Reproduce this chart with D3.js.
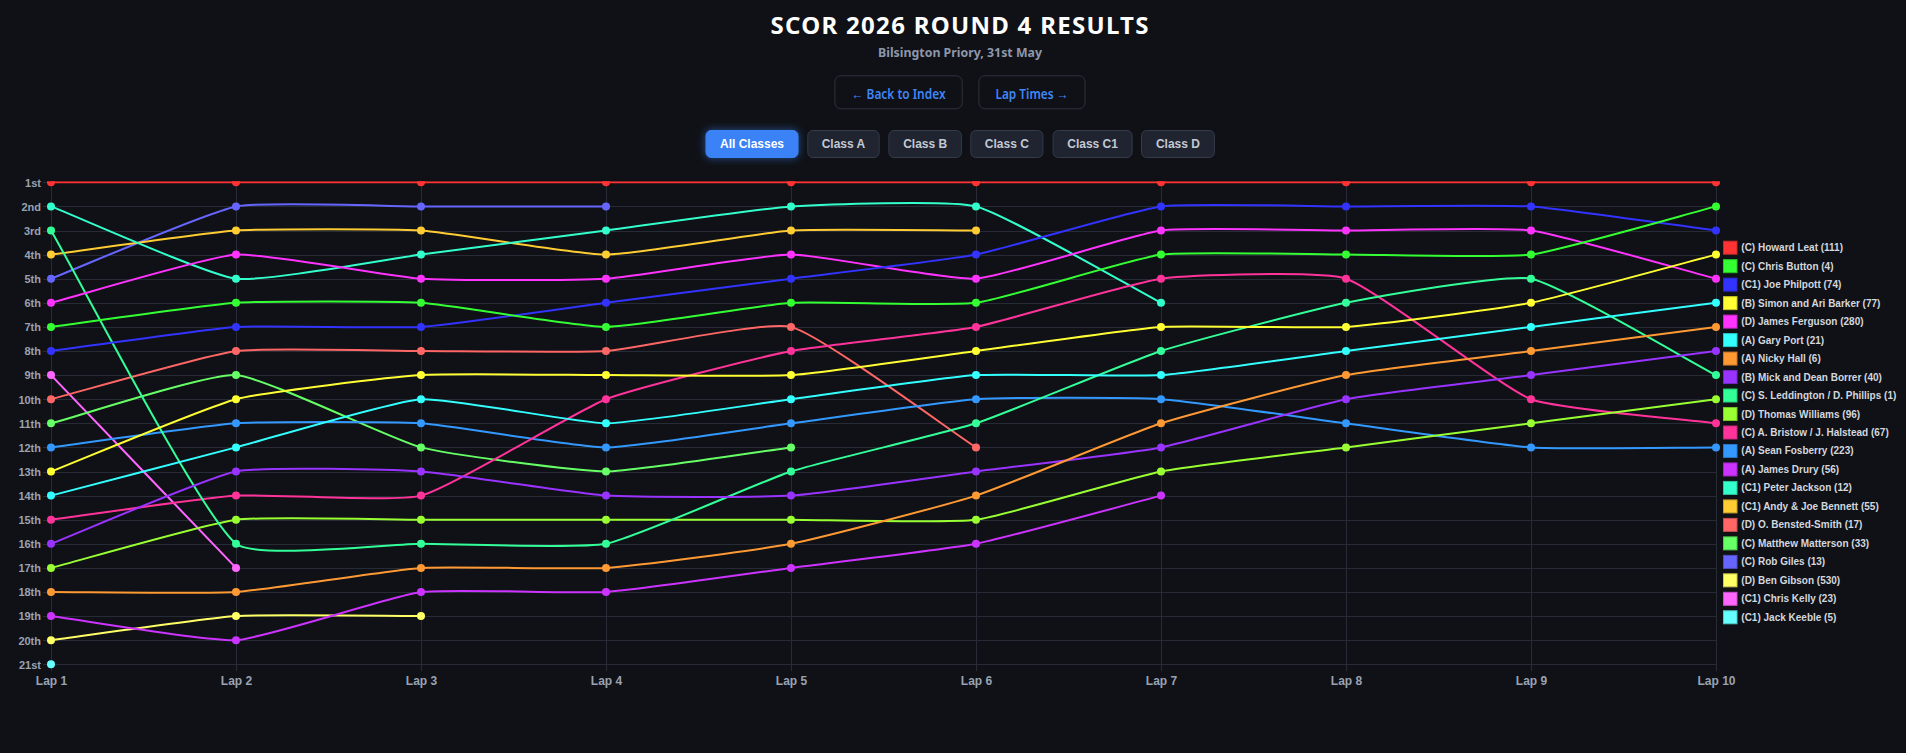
<!DOCTYPE html>
<html><head><meta charset="utf-8">
<script src="https://cdn.jsdelivr.net/npm/d3@7"></script>
<style>
html,body{margin:0;padding:0;background:#0f1116;overflow:hidden}
svg{display:block}
</style></head><body>
<svg id="c" width="1906" height="753"></svg>
<script>
const laps = ["Lap 1","Lap 2","Lap 3","Lap 4","Lap 5","Lap 6","Lap 7","Lap 8","Lap 9","Lap 10"];
const rankLabels = ["1st","2nd","3rd","4th","5th","6th","7th","8th","9th","10th","11th","12th","13th","14th","15th","16th","17th","18th","19th","20th","21st"];
const drivers = ["(C) Howard Leat (111)","(C) Chris Button (4)","(C1) Joe Philpott (74)","(B) Simon and Ari Barker (77)","(D) James Ferguson (280)","(A) Gary Port (21)","(A) Nicky Hall (6)","(B) Mick and Dean Borrer (40)","(C) S. Leddington / D. Phillips (1)","(D) Thomas Williams (96)","(C) A. Bristow / J. Halstead (67)","(A) Sean Fosberry (223)","(A) James Drury (56)","(C1) Peter Jackson (12)","(C1) Andy & Joe Bennett (55)","(D) O. Bensted-Smith (17)","(C) Matthew Matterson (33)","(C) Rob Giles (13)","(D) Ben Gibson (530)","(C1) Chris Kelly (23)","(C1) Jack Keeble (5)"];
const colors = ["#ff3333","#33ff33","#3333ff","#ffff33","#ff33ff","#33ffff","#ff9933","#9933ff","#33ff99","#99ff33","#ff3399","#3399ff","#cc33ff","#33ffcc","#ffcc33","#ff6666","#66ff66","#6666ff","#ffff66","#ff66ff","#66ffff"];
const positions = [
  [1,1,1,1,1,1,1,1,1,1],
  [7,6,6,7,6,6,4,4,4,2],
  [8,7,7,6,5,4,2,2,2,3],
  [13,10,9,9,9,8,7,7,6,4],
  [6,4,5,5,4,5,3,3,3,5],
  [14,12,10,11,10,9,9,8,7,6],
  [18,18,17,17,16,14,11,9,8,7],
  [16,13,13,14,14,13,12,10,9,8],
  [3,16,16,16,13,11,8,6,5,9],
  [17,15,15,15,15,15,13,12,11,10],
  [15,14,14,10,8,7,5,5,10,11],
  [12,11,11,12,11,10,10,11,12,12],
  [19,20,18,18,17,16,14,null,null,null],
  [2,5,4,3,2,2,6,null,null,null],
  [4,3,3,4,3,3,null,null,null,null],
  [10,8,8,8,7,12,null,null,null,null],
  [11,9,12,13,12,null,null,null,null,null],
  [5,2,2,2,null,null,null,null,null,null],
  [20,19,19,null,null,null,null,null,null,null],
  [9,17,null,null,null,null,null,null,null,null],
  [21,null,null,null,null,null,null,null,null,null]
];
const classButtons = ["All Classes","Class A","Class B","Class C","Class C1","Class D"];
const navButtons = ["← Back to Index","Lap Times →"];

const svg = d3.select("#c");
const W = 1906, H = 753;
svg.append("rect").attr("width",W).attr("height",H).attr("fill","#0f1116");

const defs = svg.append("defs");
const glow = defs.append("filter").attr("id","glow").attr("x","-30%").attr("y","-60%").attr("width","160%").attr("height","220%");
glow.append("feDropShadow").attr("dx",0).attr("dy",0).attr("stdDeviation",4).attr("flood-color","#3b82f6").attr("flood-opacity",0.55);

// Header
svg.append("text").attr("x",959.5).attr("y",33.5).attr("text-anchor","middle")
  .attr("font-family","'Noto Sans','Open Sans',sans-serif").attr("font-weight",700).attr("font-size",24)
  .attr("fill","#ffffff").attr("textLength",378).attr("lengthAdjust","spacing")
  .text("SCOR 2026 ROUND 4 RESULTS");
svg.append("text").attr("x",960).attr("y",57).attr("text-anchor","middle")
  .attr("font-family","'Noto Sans','Open Sans',sans-serif").attr("font-weight",700).attr("font-size",13)
  .attr("fill","#8d97ab").attr("textLength",164).attr("lengthAdjust","spacingAndGlyphs")
  .text("Bilsington Priory, 31st May");

// Nav buttons
const navBoxes = [{x:834.4,w:128.3,tw:94},{x:978.4,w:107.1,tw:73}];
navButtons.forEach((lab,i)=>{
  const b = navBoxes[i];
  svg.append("rect").attr("x",b.x+0.5).attr("y",75.8).attr("width",b.w-1).attr("height",33).attr("rx",6)
    .attr("fill","#0f1116").attr("stroke","#2c323e").attr("stroke-width",1);
  svg.append("text").attr("x",b.x+b.w/2).attr("y",93.5).attr("text-anchor","middle").attr("dominant-baseline","central")
    .attr("font-family","'Noto Sans','Open Sans',sans-serif").attr("font-weight",600).attr("font-size",14).attr("fill","#3f86f7")
    .attr("textLength",b.tw).attr("lengthAdjust","spacingAndGlyphs").text(lab);
});

// Class buttons
const classBoxes = [{x:705.5,w:93},{x:807.3,w:72.3},{x:888.4,w:73.5},{x:970.3,w:73.1},{x:1052.6,w:80},{x:1141,w:73.9}];
classButtons.forEach((lab,i)=>{
  const b = classBoxes[i];
  const active = i===0;
  svg.append("rect").attr("x",b.x+0.5).attr("y",130.5).attr("width",b.w-1).attr("height",27).attr("rx",5)
    .attr("fill",active?"#3b82f6":"#1f2430").attr("stroke",active?"#3b82f6":"#343b49").attr("stroke-width",1)
    .attr("filter",active?"url(#glow)":null);
  svg.append("text").attr("x",b.x+b.w/2).attr("y",144).attr("text-anchor","middle").attr("dominant-baseline","central")
    .attr("font-family","'Liberation Sans',Arial,sans-serif").attr("font-weight",700).attr("font-size",12)
    .attr("fill",active?"#ffffff":"#c3c9d4").text(lab);
});

// Scales
const x = d3.scalePoint().domain(laps).range([51,1716]);
const y = d3.scaleLinear().domain([1,21]).range([182.3,664.3]);
const yTop = y(1), yBottom = y(21);

// Grid
const g = svg.append("g");
g.selectAll("line.h").data(d3.range(1,22)).join("line")
  .attr("x1",43).attr("x2",1716).attr("y1",d=>Math.round(y(d))+0.5).attr("y2",d=>Math.round(y(d))+0.5)
  .attr("stroke","#262b35").attr("stroke-width",1);
g.selectAll("line.v").data(laps).join("line")
  .attr("x1",d=>Math.round(x(d))+0.5).attr("x2",d=>Math.round(x(d))+0.5).attr("y1",yTop).attr("y2",yBottom+7)
  .attr("stroke","#262b35").attr("stroke-width",1);

// Axes labels
const yAxis = d3.axisLeft(y).tickValues(d3.range(1,22)).tickFormat(d=>rankLabels[d-1]).tickSize(0).tickPadding(0);
const ya = svg.append("g").attr("transform","translate(41,0)").call(yAxis);
ya.select(".domain").remove();
ya.selectAll("text").attr("font-family","'Liberation Sans',Arial,sans-serif").attr("font-weight",700)
  .attr("font-size",11).attr("fill","#9aa2b1").attr("dy","0.35em").attr("x",0);

const xAxis = d3.axisBottom(x).tickSize(0).tickPadding(0);
const xa = svg.append("g").attr("transform","translate(0,676)").call(xAxis);
xa.select(".domain").remove();
xa.selectAll("text").attr("font-family","'Liberation Sans',Arial,sans-serif").attr("font-weight",700)
  .attr("font-size",12).attr("fill","#9aa2b1").attr("dy","0.71em").attr("y",0);

// Lines
defs.append("clipPath").attr("id","clip").append("rect").attr("x",0).attr("y",yTop-1).attr("width",W).attr("height",H);
const plot = svg.append("g").attr("clip-path","url(#clip)");
const tension = 0.15;

function splinePath(pts){
  const cps = pts.map((p,i)=>{
    const prev = pts[i-1]||p, next = pts[i+1]||p;
    const d01 = Math.hypot(p.x-prev.x,p.y-prev.y), d12 = Math.hypot(next.x-p.x,next.y-p.y);
    let s01 = d01/(d01+d12), s12 = d12/(d01+d12);
    if(isNaN(s01)) s01=0; if(isNaN(s12)) s12=0;
    const fa = tension*s01, fb = tension*s12;
    const cl = v=>Math.max(yTop,Math.min(yBottom,v));
    return {px:p.x-fa*(next.x-prev.x), py:cl(p.y-fa*(next.y-prev.y)), nx:p.x+fb*(next.x-prev.x), ny:cl(p.y+fb*(next.y-prev.y))};
  });
  const path = d3.path();
  path.moveTo(pts[0].x,pts[0].y);
  for(let i=1;i<pts.length;i++){
    path.bezierCurveTo(cps[i-1].nx,cps[i-1].ny,cps[i].px,cps[i].py,pts[i].x,pts[i].y);
  }
  return path.toString();
}

for(let i=drivers.length-1;i>=0;i--){
  const pts = positions[i].map((v,j)=>v==null?null:{x:x(laps[j]),y:y(v)}).filter(d=>d);
  if(pts.length>1){
    plot.append("path").attr("d",splinePath(pts)).attr("fill","none").attr("stroke",colors[i]).attr("stroke-width",2);
  }
  plot.selectAll(null).data(pts).join("circle").attr("cx",d=>d.x).attr("cy",d=>d.y).attr("r",4).attr("fill",colors[i]);
}

// Legend
const leg = svg.append("g");
drivers.forEach((name,i)=>{
  const cy = 247.7 + i*18.48;
  leg.append("rect").attr("x",1723.5).attr("y",cy-6.5).attr("width",13.5).attr("height",13)
    .attr("fill",colors[i]).attr("stroke",d3.color(colors[i]).darker(0.7)).attr("stroke-width",1);
  leg.append("text").attr("x",1741.3).attr("y",cy).attr("dominant-baseline","central")
    .attr("font-family","'Liberation Sans',Arial,sans-serif").attr("font-weight",700).attr("font-size",10)
    .attr("fill","#d3d7df").text(name);
});
</script>
</body></html>
